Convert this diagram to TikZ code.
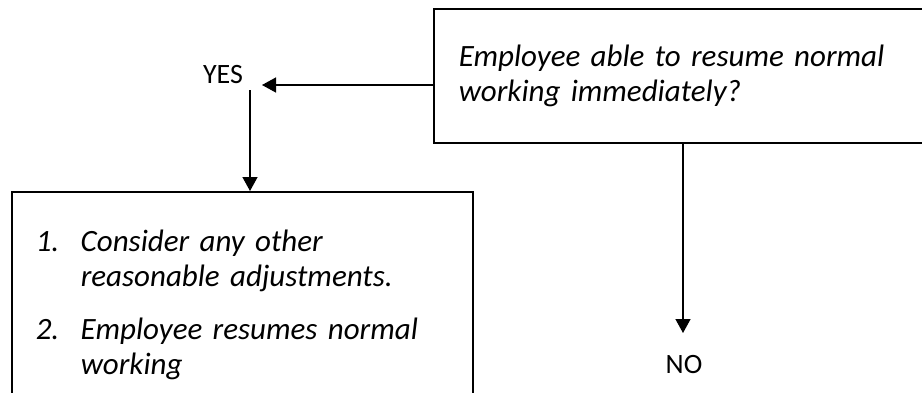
\documentclass[tikz,border=0pt]{standalone}
\usepackage{fontspec}
\setmainfont[WordSpace=0.85]{Carlito}
\usetikzlibrary{arrows.meta}
\tikzset{
	box/.style={draw, line width=1.5pt, align=left, inner ysep=0pt,
		font=\fontsize{31}{35}\selectfont\itshape},
	answer/.style={font=\fontsize{28}{34}\selectfont, inner sep=0pt, anchor=base},
	arr/.style={line width=1.4pt, -{Triangle[length=14pt,width=15pt]}}
}
\begin{document}
\begin{tikzpicture}[x=1pt,y=-1pt]
		\useasboundingbox (0,0) rectangle (922,392);

		\node[box, anchor=north west, minimum width=520pt, minimum height=134pt,
			text width=470pt, inner xsep=18pt] (ask) at (433,8)
			{Employee able to resume normal\\working immediately?};
		\node[box, anchor=north west, minimum width=461pt, text width=413pt,
			inner xsep=22pt, inner ysep=38pt] (todo) at (11,191)
			{\makebox[45pt][l]{1.}Consider any other\\
			 \hspace*{45pt}reasonable adjustments.\\[18pt]
			 \makebox[45pt][l]{2.}Employee resumes normal\\
			 \hspace*{45pt}working};

		\node[answer] (yes) at (223,83) {YES};
		\node[answer] (no)  at (684,373) {NO};

		\coordinate (yestip)  at (262,85);
		\coordinate (yesfoot) at (250,90);
		\coordinate (notip)   at (683,333);

		\draw[arr] (yestip -| ask.west) -- (yestip);
		\draw[arr] (yesfoot) -- (yesfoot |- todo.north);
		\draw[arr] (notip |- ask.south) -- (notip);
	\end{tikzpicture}
\end{document}
